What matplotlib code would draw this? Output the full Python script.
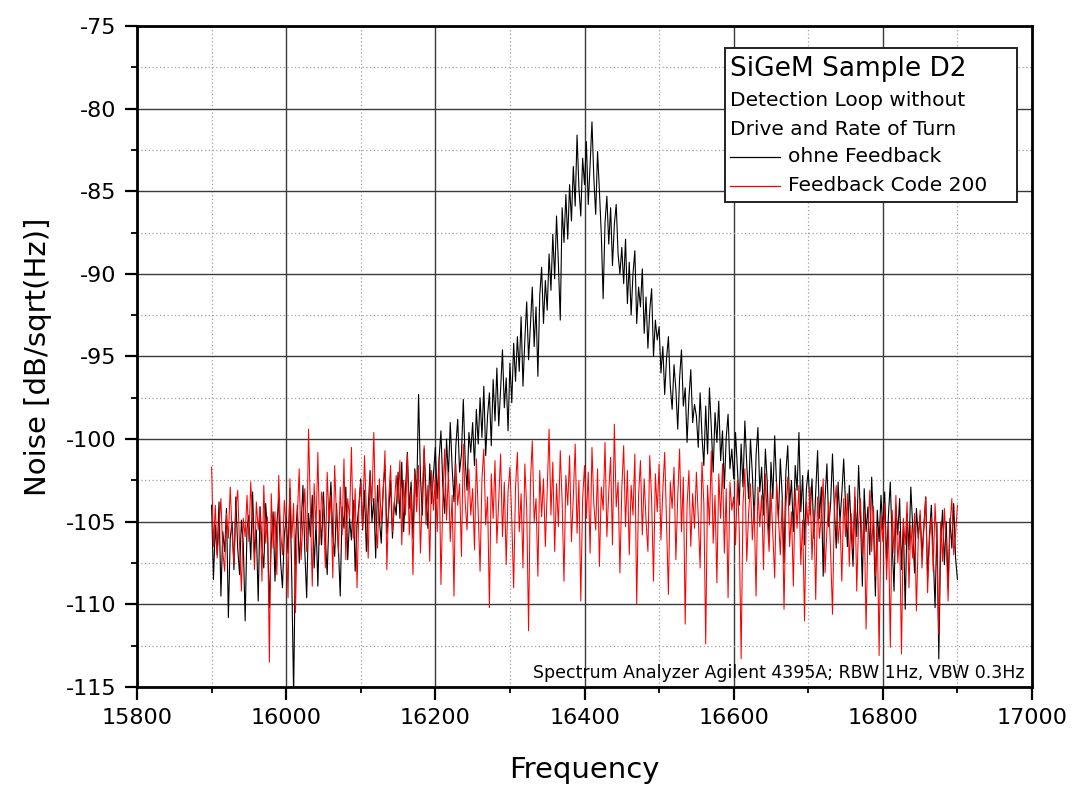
import numpy as np
import matplotlib
matplotlib.use("Agg")
import matplotlib.pyplot as plt
from matplotlib.lines import Line2D
from matplotlib.patches import Rectangle
from matplotlib.ticker import MultipleLocator

# -----------------------------------------------------------------------------
#   Data (2.5 Hz per point, 15900..16900 Hz)
# -----------------------------------------------------------------------------
f_start, f_stop = 15900, 16900

# ohne Feedback (black)
noise_black = [
    -104.0, -108.5, -105.2, -107.0, -103.8, -109.5, -105.6, -106.8, -104.2, -110.8,
    -106.0, -105.0, -107.9, -103.5, -106.6, -108.2, -104.9, -106.3, -111.0, -105.4,
    -104.6, -107.3, -103.2, -106.9, -105.5, -109.8, -104.1, -106.5, -107.8, -103.9,
    -105.7, -110.2, -106.2, -104.4, -108.6, -105.1, -103.6, -107.4, -109.0, -105.8,
    -104.8, -106.9, -103.0, -108.4, -115.5, -106.2, -104.0, -107.5, -105.3, -102.8,
    -106.8, -109.6, -104.5, -105.9, -103.4, -107.8, -105.0, -108.9, -104.3, -106.4,
    -103.2, -106.0, -108.2, -104.6, -102.6, -105.8, -107.1, -103.9, -106.5, -109.5,
    -104.1, -105.4, -102.9, -107.3, -104.8, -106.1, -103.7, -108.0, -105.2, -104.0,
    -102.4, -105.5, -103.1, -106.8, -104.2, -101.9, -105.0, -103.6, -107.2, -102.8,
    -104.9, -106.3, -103.0, -101.6, -105.7, -104.4, -102.5, -106.0, -103.8, -104.6,
    -102.0, -104.8, -101.4, -105.6, -103.0, -100.8, -104.2, -102.6, -106.0, -101.8,
    -103.5, -97.3, -102.2, -104.6, -100.6, -103.3, -105.4, -101.5, -103.9, -102.1,
    -100.5, -103.6, -101.2, -99.5, -102.8, -104.5, -100.0, -102.3, -99.0, -101.7,
    -103.8, -100.4, -98.8, -102.0, -100.9, -97.6, -101.3, -103.1, -99.6, -100.8,
    -99.0, -101.6, -98.2, -100.3, -97.5, -99.9, -96.8, -101.0, -98.6, -97.2,
    -100.4, -96.4, -98.9, -95.7, -99.2, -97.0, -94.6, -98.1, -96.3, -99.5,
    -95.4, -97.8, -94.2, -96.5, -93.8, -95.9, -92.6, -96.8, -94.0, -91.7,
    -95.2, -93.1, -90.8, -94.4, -92.0, -96.2, -91.3, -89.6, -93.0, -90.4,
    -92.2, -88.8, -91.0, -87.6, -90.3, -86.5, -89.4, -92.8, -86.0, -88.1,
    -85.2, -87.9, -84.6, -86.8, -83.5, -85.9, -81.6, -84.8, -86.5, -83.0,
    -84.6, -82.0, -85.8, -83.4, -80.8, -84.2, -86.4, -82.6, -85.0, -87.6,
    -91.5, -86.9, -85.3, -88.2, -86.0, -89.5, -87.0, -85.8, -88.8, -90.0,
    -88.4, -90.6, -87.9, -91.8, -89.3, -92.5, -90.0, -88.6, -93.0, -90.8,
    -92.0, -89.7, -93.6, -91.4, -94.5, -92.2, -90.9, -95.0, -92.8, -94.0,
    -93.2, -96.0, -94.4, -97.3, -95.1, -93.8, -96.8, -98.2, -95.5, -97.0,
    -99.4, -96.3, -94.6, -98.0, -96.9, -100.2, -97.5, -95.8, -99.0, -97.9,
    -98.6, -100.5, -97.2, -99.8, -101.6, -98.0, -100.9, -96.9, -99.3, -102.0,
    -98.4, -100.2, -97.7, -101.3, -99.5, -103.0, -99.9, -98.5, -101.8, -100.6,
    -102.4, -99.6, -101.8, -104.0, -100.3, -102.9, -98.9, -101.5, -103.6, -100.0,
    -102.1, -105.0, -101.0, -99.3, -103.2, -101.7, -104.6, -100.6, -102.6, -106.2,
    -101.4, -103.6, -99.8, -102.8, -104.9, -101.2, -103.4, -107.5, -102.0, -100.4,
    -104.0, -102.5, -105.6, -101.6, -103.1, -99.6, -104.4, -102.2, -106.4, -103.0,
    -101.9, -104.6, -102.4, -106.0, -103.2, -100.7, -104.8, -102.9, -108.3, -103.6,
    -101.5, -105.3, -103.9, -100.9, -104.2, -106.6, -102.6, -105.0, -103.3, -101.2,
    -104.0, -106.5, -102.8, -105.4, -107.7, -103.5, -105.9, -101.6, -104.7, -108.9,
    -103.0, -105.6, -104.1, -107.0, -102.3, -105.2, -109.5, -104.3, -106.2, -103.4,
    -105.5, -103.2, -107.4, -104.6, -102.6, -106.3, -109.2, -104.0, -105.8, -103.6,
    -107.9, -105.1, -110.3, -104.5, -106.7, -102.9, -105.3, -108.1, -104.2, -106.0,
    -104.6, -107.0, -105.2, -103.5, -108.4, -105.8, -104.0, -106.9, -110.2, -105.1,
    -113.3, -106.4, -104.3, -107.6, -105.0, -109.0, -104.8, -106.6, -103.9, -107.2,
    -108.5,
]

# Feedback Code 200 (red)
noise_red = [
    -101.7, -106.5, -104.0, -107.2, -105.3, -103.6, -106.8, -108.0, -104.5, -106.0,
    -102.9, -105.7, -107.6, -104.2, -103.1, -106.4, -109.2, -104.8, -105.9, -103.4,
    -106.2, -102.6, -105.0, -107.9, -103.8, -105.5, -104.1, -108.6, -102.8, -106.3,
    -104.7, -113.5, -103.3, -106.6, -104.4, -108.2, -102.2, -105.6, -107.0, -103.7,
    -105.3, -109.6, -102.4, -106.0, -103.9, -110.5, -104.6, -101.8, -107.3, -104.9,
    -103.0, -106.8, -99.4, -104.3, -108.9, -102.7, -105.5, -100.8, -106.4, -103.2,
    -104.1, -107.8, -102.0, -105.0, -103.4, -108.4, -101.6, -104.7, -106.9, -102.9,
    -105.8, -101.2, -107.3, -103.6, -104.8, -100.5, -106.0, -103.0, -109.0, -104.2,
    -102.6, -105.4, -101.0, -104.3, -107.2, -102.1, -103.8, -99.6, -104.9, -106.6,
    -102.4, -105.1, -103.3, -100.7, -107.9, -103.6, -101.6, -105.6, -104.0, -102.2,
    -103.9, -101.3, -106.4, -102.5, -104.6, -100.9, -105.8, -103.1, -108.2, -102.0,
    -104.4, -101.6, -106.9, -103.4, -100.4, -105.2, -102.8, -107.4, -101.9, -104.3,
    -102.3, -105.6, -101.1, -108.8, -103.7, -100.6, -104.9, -102.0, -106.2, -103.4,
    -109.5, -101.5, -104.0, -102.7, -107.1, -100.3, -103.8, -105.5, -101.8, -104.6,
    -103.0, -106.7, -101.2, -104.5, -108.0, -102.4, -100.6, -105.2, -103.5, -110.2,
    -102.1, -104.8, -101.3, -106.3, -103.7, -100.9, -105.9, -102.6, -107.6, -103.2,
    -101.7, -104.9, -109.0, -102.9, -100.8, -105.6, -103.3, -107.8, -101.5, -104.2,
    -111.6, -102.6, -100.1, -105.0, -103.6, -108.3, -101.9, -104.7, -102.4, -106.5,
    -103.1, -99.4, -104.6, -101.4, -106.8, -102.7, -105.3, -100.7, -103.8, -108.6,
    -102.2, -104.0, -101.0, -106.2, -103.5, -100.3, -105.7, -102.5, -109.8, -103.6,
    -101.6, -104.8, -102.0, -106.9, -100.5, -103.9, -105.5, -101.8, -107.7, -102.9,
    -104.3, -100.2, -105.9, -103.2, -101.1, -106.4, -99.1, -104.1, -102.6, -108.1,
    -103.0, -100.4, -105.3, -101.9, -107.0, -102.8, -104.6, -100.9, -110.0, -103.4,
    -101.3, -105.8, -102.4, -104.9, -106.8, -101.0, -103.7, -108.6, -102.1, -104.4,
    -101.5, -106.1, -103.1, -100.8, -105.0, -109.4, -102.6, -104.2, -101.7, -107.3,
    -103.5, -100.6, -105.6, -102.3, -111.2, -104.0, -101.9, -106.5, -103.3, -105.4,
    -102.0, -104.7, -107.8, -101.4, -103.9, -112.4, -102.8, -105.2, -100.7, -106.3,
    -103.4, -108.7, -102.1, -104.8, -101.5, -106.9, -103.0, -109.6, -102.6, -104.3,
    -103.5, -106.4, -102.5, -105.6, -113.3, -103.9, -101.8, -107.4, -104.5, -102.7,
    -106.1, -104.0, -109.5, -102.9, -105.3, -103.4, -107.9, -102.1, -104.9, -106.8,
    -103.2, -105.8, -108.4, -102.6, -104.7, -107.0, -103.7, -110.3, -104.1, -102.3,
    -106.5, -104.4, -108.9, -103.0, -105.4, -102.8, -107.6, -104.9, -111.0, -103.8,
    -105.2, -102.9, -107.3, -104.3, -109.7, -103.5, -106.0, -104.6, -102.4, -108.1,
    -105.5, -103.8, -106.9, -110.6, -104.2, -102.8, -106.3, -104.7, -108.6, -103.6,
    -105.9, -103.3, -107.7, -104.5, -106.6, -102.9, -109.2, -105.0, -103.6, -107.0,
    -104.4, -111.5, -105.7, -103.1, -106.8, -104.1, -108.3, -105.3, -113.1, -104.6,
    -106.2, -103.9, -108.5, -105.1, -112.6, -104.3, -106.9, -103.4, -107.5, -105.6,
    -113.0, -104.8, -106.4, -103.8, -109.0, -105.2, -107.2, -104.5, -110.4, -106.0,
    -104.3, -107.8, -105.4, -103.5, -109.3, -106.1, -104.7, -108.0, -103.9, -106.6,
    -111.8, -105.0, -107.4, -104.2, -106.3, -109.8, -105.2, -103.6, -107.0, -105.8,
    -104.0,
]

freq_black = np.linspace(f_start, f_stop, len(noise_black))
freq_red = np.linspace(f_start, f_stop, len(noise_red))

series_labels = ["ohne Feedback", "Feedback Code 200"]
series_colors = ["#000000", "#ff0000"]

# -----------------------------------------------------------------------------
#   Figure
# -----------------------------------------------------------------------------
plt.rcParams['font.family'] = ['DejaVu Sans']
plt.rcParams['axes.unicode_minus'] = False

fig = plt.figure(figsize=(10.72, 7.87), dpi=100)
ax = fig.add_axes([0.1278, 0.1271, 0.8349, 0.8399])

ax.plot(freq_black, noise_black, color=series_colors[0], lw=0.8, zorder=3)
ax.plot(freq_red, noise_red, color=series_colors[1], lw=0.75, zorder=4)

ax.set_xlim(15800, 17000)
ax.set_ylim(-115, -75)
ax.xaxis.set_major_locator(MultipleLocator(200))
ax.xaxis.set_minor_locator(MultipleLocator(100))
ax.yaxis.set_major_locator(MultipleLocator(5))
ax.yaxis.set_minor_locator(MultipleLocator(2.5))

ax.grid(which='major', color='#3a3a3a', lw=1.0, zorder=1)
ax.grid(which='minor', color='#a0a0a0', lw=0.9, ls=(0, (1, 2)), zorder=1)
ax.set_axisbelow(True)

for sp in ax.spines.values():
    sp.set_linewidth(2.0)
ax.tick_params(which='major', direction='out', length=9, width=1.6,
               labelsize=16, pad=6)
ax.tick_params(which='minor', direction='out', length=4.5, width=1.3)
ax.tick_params(top=False, right=False, which='both')

ax.set_xlabel("Frequency", fontsize=21, labelpad=20)
ax.set_ylabel("Noise [dB/sqrt(Hz)]", fontsize=21, labelpad=10)

# legend box (Origin-style, with two description lines)
tr = ax.transAxes
ax.add_patch(Rectangle((0.657, 0.734), 0.326, 0.233, transform=tr,
                       facecolor='white', edgecolor='#222222', lw=1.4, zorder=6))
ax.text(0.6626, 0.935, "SiGeM Sample D2", transform=tr, fontsize=19,
        va='center', ha='left', zorder=7)
ax.text(0.6626, 0.888, "Detection Loop without", transform=tr, fontsize=14.5,
        va='center', ha='left', zorder=7)
ax.text(0.6626, 0.843, "Drive and Rate of Turn", transform=tr, fontsize=14.5,
        va='center', ha='left', zorder=7)
for ypos, lab, col in zip([0.802, 0.758], series_labels, series_colors):
    ax.add_line(Line2D([0.6626, 0.7184], [ypos, ypos], transform=tr,
                       color=col, lw=0.9, zorder=7))
    ax.text(0.7274, ypos, lab, transform=tr, fontsize=14.5,
            va='center', ha='left', zorder=7)

ax.text(0.992, 0.021, "Spectrum Analyzer Agilent 4395A; RBW 1Hz, VBW 0.3Hz",
        transform=tr, fontsize=12.5, ha='right', va='center', zorder=7)

fig.savefig("out.png", dpi=100)
